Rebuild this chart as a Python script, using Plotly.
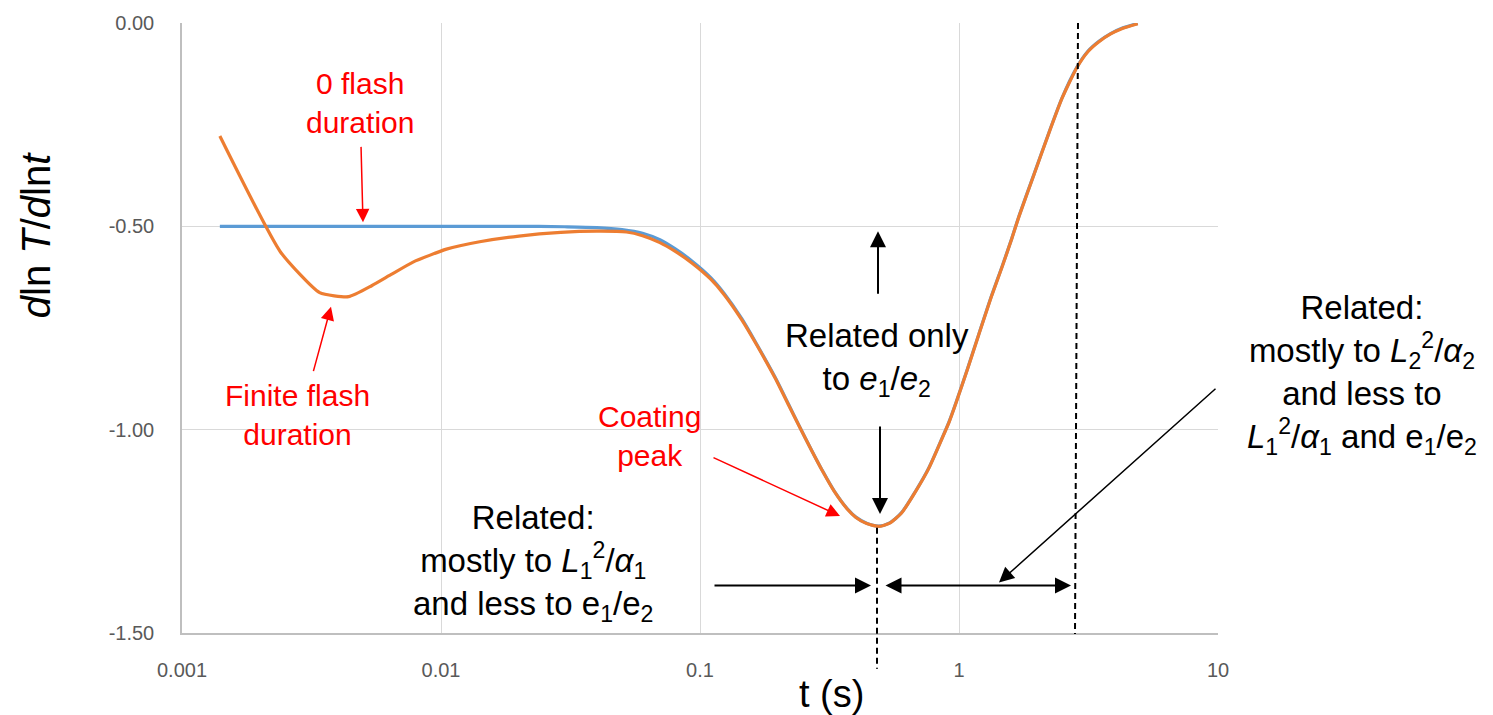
import plotly.graph_objects as go

# ---------------- data ----------------
t_finite = [0.0014, 0.0024, 0.0034, 0.0044, 0.0054, 0.0064, 0.0078, 0.0105, 0.0141, 0.020,
            0.029, 0.040, 0.052, 0.060, 0.070, 0.080, 0.093, 0.110, 0.124, 0.145,
            0.165, 0.195, 0.22, 0.24, 0.27, 0.296, 0.33, 0.37, 0.40, 0.44,
            0.49, 0.54, 0.60, 0.683, 0.766, 0.86, 0.915, 0.973, 1.08, 1.19,
            1.33, 1.47, 1.60, 1.70, 1.95, 2.22, 2.50, 2.85, 3.15, 3.47,
            3.85, 4.25, 4.9]
y_finite = [-0.278, -0.563, -0.663, -0.673, -0.646, -0.619, -0.588, -0.556, -0.538, -0.524,
            -0.515, -0.512, -0.514, -0.523, -0.540, -0.561, -0.590, -0.630, -0.668, -0.730,
            -0.790, -0.873, -0.940, -0.988, -1.052, -1.100, -1.152, -1.195, -1.216, -1.231,
            -1.238, -1.230, -1.205, -1.150, -1.094, -1.022, -0.982, -0.935, -0.850, -0.768,
            -0.675, -0.598, -0.530, -0.478, -0.372, -0.272, -0.185, -0.110, -0.070, -0.046,
            -0.027, -0.014, -0.002]

t_zero = [0.0014, 0.005, 0.010, 0.020, 0.030, 0.040, 0.050, 0.060, 0.070, 0.080,
          0.093, 0.110, 0.124, 0.145, 0.165, 0.195, 0.22, 0.24, 0.27, 0.296,
          0.33, 0.37, 0.40, 0.44, 0.49, 0.54, 0.60, 0.683, 0.766, 0.86,
          0.915, 0.973, 1.08, 1.19, 1.33, 1.47, 1.60, 1.70, 1.95, 2.22,
          2.50, 2.85, 3.15, 3.47, 3.85, 4.25, 4.9]
y_zero = [-0.500, -0.500, -0.500, -0.500, -0.501, -0.503, -0.508, -0.517, -0.533, -0.555,
          -0.585, -0.626, -0.665, -0.727, -0.788, -0.871, -0.938, -0.987, -1.051, -1.099,
          -1.151, -1.194, -1.215, -1.230, -1.237, -1.229, -1.204, -1.149, -1.093, -1.021,
          -0.981, -0.934, -0.849, -0.767, -0.674, -0.597, -0.529, -0.477, -0.371, -0.271,
          -0.184, -0.109, -0.069, -0.045, -0.026, -0.013, -0.001]

x_tickvals = [0.001, 0.01, 0.1, 1, 10]
x_ticktext = ["0.001", "0.01", "0.1", "1", "10"]
y_tickvals = [0.0, -0.5, -1.0, -1.5]
y_ticktext = ["0.00", "-0.50", "-1.00", "-1.50"]

# ---------------- layout geometry (pixels) ----------------
W, H = 1493, 715
L, R, T, B = 182, 1218, 18, 633

def px(x):
    return (x - L) / (R - L)

def py(y):
    return (B - y) / (B - T)

FONT = "Liberation Sans, Arial, sans-serif"
RED = "#FF0000"

fig = go.Figure()
fig.add_trace(go.Scatter(x=t_zero, y=y_zero, mode="lines",
                         line=dict(color="#5B9BD5", width=3.2, shape="spline", smoothing=0.8),
                         showlegend=False))
fig.add_trace(go.Scatter(x=t_finite, y=y_finite, mode="lines",
                         line=dict(color="#ED7D31", width=3.2, shape="spline", smoothing=0.5),
                         showlegend=False))

annotations = []

def text(x, y, s, size, color="black"):
    annotations.append(dict(xref="paper", yref="paper", x=px(x), y=py(y), text=s,
                            showarrow=False, xanchor="center", yanchor="middle",
                            align="center", font=dict(family=FONT, size=size, color=color)))

def arrow(tipx, tipy, tailx, taily, color="black", width=2, size=1.6):
    annotations.append(dict(xref="paper", yref="paper", x=px(tipx), y=py(tipy), text="",
                            showarrow=True, ax=tailx - tipx, ay=taily - tipy,
                            arrowhead=2, arrowsize=size, arrowwidth=width, arrowcolor=color,
                            standoff=0))

# red labels
text(360, 99, "0 flash<br>duration", 30, RED)
text(297, 413, "Finite flash<br>duration", 30, RED)
text(649, 434, "Coating<br>peak", 30, RED)

# black labels
text(877, 357, "Related only<br>to <i>e</i><sub>1</sub>/<i>e</i><sub>2</sub>", 33)
text(533, 562, "Related:<br>mostly to <i>L</i><sub>1</sub><sup>2</sup>/<i>α</i><sub>1</sub>"
               "<br>and less to e<sub>1</sub>/e<sub>2</sub>", 33)
text(1362, 372, "Related:<br>mostly to <i>L</i><sub>2</sub><sup>2</sup>/<i>α</i><sub>2</sub>"
                "<br>and less to<br><i>L</i><sub>1</sub><sup>2</sup>/<i>α</i><sub>1</sub> and e<sub>1</sub>/e<sub>2</sub>", 33)

# axis titles
annotations.append(dict(xref="paper", yref="paper", x=px(36), y=py(232), textangle=-90,
                        text="<i>d</i>ln <i>T</i>/<i>d</i>ln<i>t</i>", showarrow=False,
                        xanchor="center", yanchor="middle",
                        font=dict(family=FONT, size=40, color="black")))
annotations.append(dict(xref="paper", yref="paper", x=px(831), y=py(694),
                        text="t (s)", showarrow=False, xanchor="center", yanchor="middle",
                        font=dict(family=FONT, size=38, color="black")))

# red arrows
arrow(363, 219, 361, 142, RED, 1.5, 1.8)
arrow(331, 304, 313, 370, RED, 1.5, 1.8)
arrow(840, 515, 712, 456, RED, 1.5, 1.8)

# black arrows
arrow(878, 228, 878, 292)
arrow(880, 513, 880, 424)
arrow(871, 585, 713, 585)
annotations.append(dict(xref="paper", yref="paper", x=px(1071), y=py(585), text="",
                        showarrow=True, ax=884 - 1071, ay=0, arrowhead=2, arrowsize=1.6,
                        arrowwidth=2, arrowcolor="black", arrowside="end+start",
                        startarrowhead=2, startarrowsize=1.6, standoff=0, startstandoff=0))
arrow(999, 582, 1217, 387, width=1.5, size=2.0)

shapes = [
    dict(type="line", xref="paper", yref="paper", x0=px(877), x1=px(877), y0=py(527), y1=py(669),
         line=dict(color="black", width=2, dash="6px,4px")),
    dict(type="line", xref="paper", yref="paper", x0=px(1078), x1=px(1075), y0=py(18), y1=py(634),
         line=dict(color="black", width=2, dash="6px,4px")),
]

fig.update_layout(
    width=W, height=H, autosize=False,
    margin=dict(l=L, r=W - R, t=T, b=H - B, pad=0),
    paper_bgcolor="white", plot_bgcolor="white",
    showlegend=False,
    annotations=annotations, shapes=shapes,
    font=dict(family=FONT),
)
fig.update_xaxes(type="log", range=[-3, 1], tickvals=x_tickvals, ticktext=x_ticktext,
                 showgrid=True, gridcolor="#D9D9D9", gridwidth=1,
                 showline=True, linecolor="#BFBFBF", linewidth=1.5, mirror=False,
                 ticks="", ticklabelstandoff=18, zeroline=False,
                 tickfont=dict(family=FONT, size=20, color="#595959"))
fig.update_yaxes(range=[-1.5, 0], tickvals=y_tickvals, ticktext=y_ticktext,
                 showgrid=True, gridcolor="#D9D9D9", gridwidth=1,
                 showline=True, linecolor="#BFBFBF", linewidth=1.5, mirror=False,
                 ticks="", ticklabelstandoff=22, zeroline=False,
                 tickfont=dict(family=FONT, size=20, color="#595959"))

fig.write_html("out.html")
